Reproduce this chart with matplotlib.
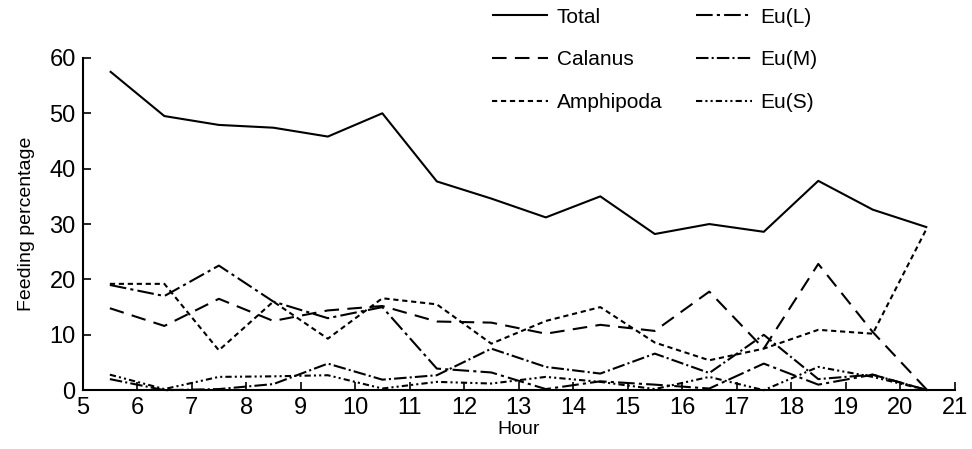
import matplotlib
matplotlib.use("Agg")
import matplotlib.pyplot as plt
from matplotlib.lines import Line2D

plt.rcParams["font.family"] = ["Liberation Sans", "DejaVu Sans"]

# hours of sampling (half-hour marks)
hours = [5.5, 6.5, 7.5, 8.5, 9.5, 10.5, 11.5, 12.5, 13.5, 14.5, 15.5, 16.5, 17.5, 18.5, 19.5, 20.5]

total = [57.6, 49.5, 47.9, 47.4, 45.8, 50.0, 37.7, 34.6, 31.2, 35.0, 28.2, 30.0, 28.6, 37.8, 32.6, 29.4]
calanus = [14.8, 11.6, 16.5, 12.5, 14.4, 15.2, 12.4, 12.2, 10.2, 11.8, 10.7, 17.8, 7.5, 22.8, 10.5, 0.0]
amphipoda = [19.2, 19.2, 7.2, 16.0, 9.3, 16.6, 15.5, 8.4, 12.5, 15.0, 8.6, 5.4, 7.5, 10.9, 10.2, 29.4]
eu_l = [19.0, 17.0, 22.5, 16.0, 13.0, 15.0, 3.9, 3.2, 0.2, 1.6, 1.0, 0.3, 4.8, 1.0, 2.8, 0.0]
eu_m = [2.0, 0.0, 0.2, 1.1, 4.8, 1.9, 2.7, 7.5, 4.2, 3.0, 6.6, 3.1, 10.0, 2.0, 2.8, 0.0]
eu_s = [2.8, 0.2, 2.4, 2.5, 2.7, 0.3, 1.5, 1.2, 2.4, 1.5, 0.2, 2.4, 0.0, 4.2, 2.4, 0.0]

series = [
    ("Total", total, (0, ())),
    ("Calanus", calanus, (0, (7, 4))),
    ("Amphipoda", amphipoda, (0, (2.5, 1.8))),
    ("Eu(L)", eu_l, (0, (8, 2, 1.5, 2))),
    ("Eu(M)", eu_m, (0, (6, 1.5, 1, 1.5))),
    ("Eu(S)", eu_s, (0, (3, 1.5, 1, 1.5, 1, 1.5))),
]

fig = plt.figure(figsize=(9.72, 4.49), dpi=100)
fig.patch.set_facecolor("white")
ax = fig.add_axes([0.085, 0.131, 0.897, 0.74])

for name, vals, ls in series:
    ax.plot(hours, vals, color="black", linewidth=1.5, linestyle=ls, clip_on=False)

ax.set_xlim(5, 21)
ax.set_ylim(0, 60)
ax.set_xticks(range(5, 22))
ax.set_yticks(range(0, 61, 10))
ax.tick_params(direction="in", length=6, width=1.2, labelsize=17, pad=5)
for s in ("top", "right"):
    ax.spines[s].set_visible(False)
for s in ("left", "bottom"):
    ax.spines[s].set_linewidth(1.5)

ax.set_xlabel("Hour", fontsize=14, labelpad=1)
ax.set_ylabel("Feeding percentage", fontsize=14, labelpad=10)

handles = [Line2D([0], [0], color="black", linewidth=1.5, linestyle=ls) for _, _, ls in series]
labels = [name for name, _, _ in series]
fig.legend(handles, labels, ncol=2, loc="upper left", bbox_to_anchor=(0.487, 1.025),
           frameon=False, fontsize=15, handlelength=2.7, handletextpad=0.4,
           columnspacing=1.6, labelspacing=1.15)

fig.savefig("out.png", dpi=100)
